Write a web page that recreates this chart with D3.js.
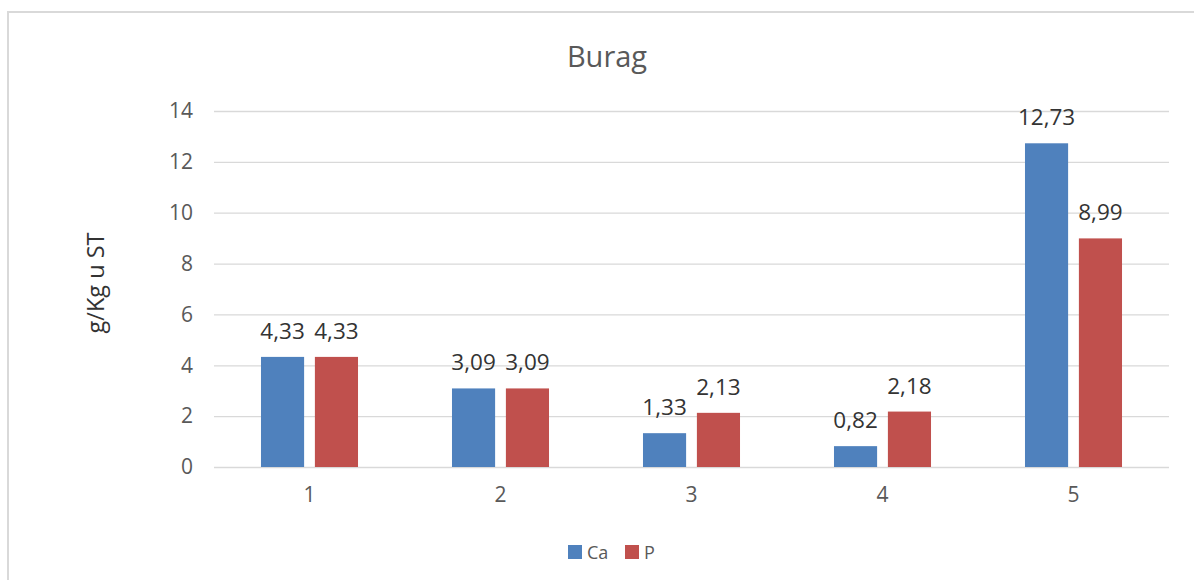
<!DOCTYPE html>
<html>
<head>
<meta charset="utf-8">
<script src="https://cdn.jsdelivr.net/npm/d3@7"></script>
<style>
  body { margin: 0; background: #fff; }
  text { font-family: "Open Sans", sans-serif; }
</style>
</head>
<body>
<svg id="chart"></svg>
<script>
const WIDTH = 1194;
const HEIGHT = 580;

const categories = ["1", "2", "3", "4", "5"];
const seriesNames = ["Ca", "P"];
const caValues = [4.33, 3.09, 1.33, 0.82, 12.73];
const pValues = [4.33, 3.09, 2.13, 2.18, 8.99];
const yTicks = [0, 2, 4, 6, 8, 10, 12, 14];
const colors = ["#4f81bd", "#c0504d"];

const plot = {left: 214, right: 1169, top: 111, bottom: 467};

const svg = d3.select("#chart")
    .attr("width", WIDTH)
    .attr("height", HEIGHT);

// outer chart border
svg.append("rect")
    .attr("x", 8).attr("y", 12)
    .attr("width", WIDTH).attr("height", HEIGHT)
    .attr("fill", "none")
    .attr("stroke", "#d9d9d9")
    .attr("stroke-width", 2);

const locale = d3.formatLocale({decimal: ",", thousands: ".", grouping: [3], currency: ["", ""]});
const fmt = locale.format(".2f");

const y = d3.scaleLinear()
    .domain([0, 14])
    .range([plot.bottom, plot.top]);

const x0 = d3.scaleBand()
    .domain(categories)
    .range([plot.left, plot.right])
    .paddingInner(0.492)
    .paddingOuter(0.246);

const x1 = d3.scaleBand()
    .domain(seriesNames)
    .range([0, x0.bandwidth()])
    .paddingInner(0.2);

// gridlines + y tick labels
const yAxis = d3.axisLeft(y)
    .tickValues(yTicks)
    .tickSize(-(plot.right - plot.left))
    .tickPadding(21)
    .tickFormat(d3.format("d"));

const yG = svg.append("g")
    .attr("transform", `translate(${plot.left},0)`)
    .call(yAxis);
yG.select(".domain").remove();
yG.selectAll("line").attr("stroke", "#d9d9d9").attr("stroke-width", 1.3);
yG.selectAll("text")
    .attr("fill", "#595959")
    .style("font-size", "21px")
    .style("font-family", "'Open Sans', sans-serif");

// x labels
const xAxis = d3.axisBottom(x0).tickSize(0).tickPadding(20);
const xG = svg.append("g")
    .attr("transform", `translate(0,${plot.bottom})`)
    .call(xAxis);
xG.select(".domain").remove();
xG.selectAll("text")
    .attr("fill", "#595959")
    .style("font-size", "21px")
    .style("font-family", "'Open Sans', sans-serif");

const rows = categories.map((c, i) => ({cat: c, vals: [caValues[i], pValues[i]]}));

const groups = svg.append("g").selectAll("g")
    .data(rows)
    .join("g")
    .attr("transform", d => `translate(${x0(d.cat)},0)`);

groups.selectAll("rect")
    .data(d => d.vals.map((v, k) => ({name: seriesNames[k], v: v, k: k})))
    .join("rect")
    .attr("x", d => x1(d.name))
    .attr("y", d => y(d.v))
    .attr("width", x1.bandwidth())
    .attr("height", d => y(0) - y(d.v))
    .attr("fill", d => colors[d.k]);

groups.selectAll("text.lbl")
    .data(d => d.vals.map((v, k) => ({name: seriesNames[k], v: v, k: k})))
    .join("text")
    .attr("class", "lbl")
    .attr("x", d => x1(d.name) + x1.bandwidth() / 2)
    .attr("y", d => y(d.v) - 18)
    .attr("text-anchor", "middle")
    .attr("fill", "#333")
    .style("font-size", "22.5px")
    .text(d => fmt(d.v));

// title
svg.append("text")
    .attr("x", 607).attr("y", 67)
    .attr("text-anchor", "middle")
    .attr("fill", "#595959")
    .style("font-size", "29px")
    .text("Burag");

// y axis title
svg.append("text")
    .attr("transform", `translate(104,283) rotate(-90)`)
    .attr("text-anchor", "middle")
    .attr("fill", "#333")
    .style("font-size", "23.5px")
    .text("g/Kg u ST");

// legend
const legend = svg.append("g").attr("transform", "translate(568,545)");
const legendX = [0, 57];
seriesNames.forEach((s, i) => {
    legend.append("rect")
        .attr("x", legendX[i]).attr("y", 0)
        .attr("width", 14).attr("height", 14)
        .attr("fill", colors[i]);
    legend.append("text")
        .attr("x", legendX[i] + 19).attr("y", 14)
        .attr("fill", "#595959")
        .style("font-size", "18px")
        .text(s);
});
</script>
</body>
</html>
